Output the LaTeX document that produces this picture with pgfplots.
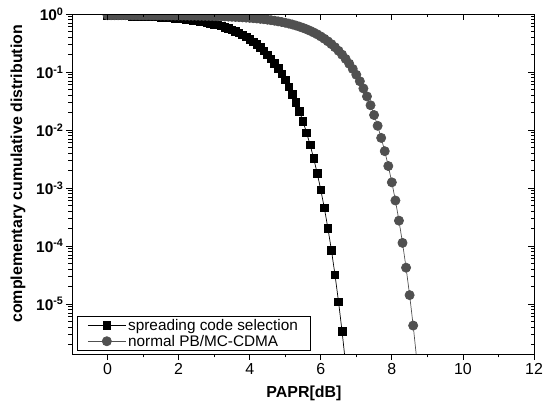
\documentclass[border=0pt]{standalone}
\usepackage{pgfplots}
\pgfplotsset{compat=1.18}
\usepackage{fontspec}
\setmainfont{Liberation Sans}
\definecolor{circgray}{RGB}{80,80,80}

\pgfplotsset{
  ccdfticks/.style={
    xtick={0,2,...,12}, minor x tick num=1,
    ytick={1e-5,1e-4,1e-3,1e-2,1e-1,1},
    minor ytick={2e-6,3e-6,4e-6,5e-6,6e-6,7e-6,8e-6,9e-6,
                 2e-5,3e-5,4e-5,5e-5,6e-5,7e-5,8e-5,9e-5,
                 2e-4,3e-4,4e-4,5e-4,6e-4,7e-4,8e-4,9e-4,
                 2e-3,3e-3,4e-3,5e-3,6e-3,7e-3,8e-3,9e-3,
                 2e-2,3e-2,4e-2,5e-2,6e-2,7e-2,8e-2,9e-2,
                 2e-1,3e-1,4e-1,5e-1,6e-1,7e-1,8e-1,9e-1},
    major tick length=6bp, minor tick length=3.5bp,
    tick style={black, line width=0.8bp},
    axis line style={line width=1bp},
  },
}

\begin{document}
\begin{tikzpicture}
\begin{axis}[
  scale only axis, width=462bp, height=340bp,
  xmin=-1, xmax=12,
  ymode=log, ymin=1.37e-6, ymax=1,
  ccdfticks,
  xtick pos=left, ytick pos=left,
  tick align=outside,
  clip marker paths=true,
  /pgf/number format/assume math mode=true,
  xticklabel style={font=\fontsize{16}{16}\selectfont},
  yticklabel style={font=\fontsize{15.5}{16}\selectfont\bfseries, xshift=1bp},
  yticklabels={10\textsuperscript{-5},10\textsuperscript{-4},10\textsuperscript{-3},
               10\textsuperscript{-2},10\textsuperscript{-1},10\textsuperscript{0}},
  xlabel={PAPR[dB]},
  ylabel={complementary cumulative distribution},
  label style={font=\fontsize{16}{16}\selectfont\bfseries},
  xlabel style={at={(axis description cs:0.502,-0.115)}, anchor=center},
  ylabel style={at={(axis description cs:-0.117,0.53)}, anchor=center},
  legend style={at={(0.011,0.009)}, anchor=south west, draw=black,
                line width=0.8bp, font=\fontsize{15.4}{15.4}\selectfont,
                inner xsep=10bp, inner ysep=1bp, row sep=-1bp,
                cells={anchor=west}},
  legend image code/.code={
    \draw[mark repeat=2,mark phase=2] plot coordinates {(0bp,0bp) (19bp,0bp) (38bp,0bp)};},
]
% spreading code selection
\addplot[black, line width=0.7bp, mark=square*, mark size=3.8bp,
         mark options={solid, fill=black}] table {
x    y
0.0  0.938
0.1  0.936
0.2  0.934
0.3  0.932
0.4  0.930
0.5  0.927
0.6  0.924
0.7  0.921
0.8  0.918
0.9  0.914
1.0  0.910
1.1  0.905
1.2  0.900
1.3  0.894
1.4  0.888
1.5  0.882
1.6  0.874
1.7  0.866
1.8  0.857
1.9  0.848
2.0  0.837
2.1  0.826
2.2  0.813
2.3  0.800
2.4  0.785
2.5  0.769
2.6  0.752
2.7  0.734
2.8  0.714
2.9  0.693
3.0  0.670
3.1  0.645
3.2  0.620
3.3  0.592
3.4  0.564
3.5  0.533
3.6  0.502
3.7  0.470
3.8  0.436
3.9  0.402
4.0  0.367
4.1  0.332
4.2  0.298
4.3  0.264
4.4  0.231
4.5  0.199
4.6  0.169
4.7  0.141
4.8  0.116
4.9  0.0928
5.0  0.0729
5.1  0.0557
5.2  0.0415
5.3  0.0299
5.4  0.0208
5.5  0.0140
5.6  0.00899
5.7  0.00553
5.8  0.00324
5.9  0.00179
6.0  9.31e-4
6.1  4.52e-4
6.2  2.03e-4
6.3  8.43e-5
6.4  3.18e-5
6.5  1.09e-5
6.6  3.33e-6
6.7  8.97e-7
};
\addlegendentry{spreading code selection}
% normal PB/MC-CDMA
\addplot[circgray, line width=0.7bp, mark=*, mark size=4.6bp,
         mark options={solid, fill=circgray}] table {
x    y
0.0  0.953
0.1  0.953
0.2  0.953
0.3  0.953
0.4  0.953
0.5  0.952
0.6  0.952
0.7  0.952
0.8  0.951
0.9  0.951
1.0  0.950
1.1  0.950
1.2  0.949
1.3  0.949
1.4  0.948
1.5  0.947
1.6  0.946
1.7  0.945
1.8  0.944
1.9  0.943
2.0  0.942
2.1  0.941
2.2  0.939
2.3  0.937
2.4  0.935
2.5  0.933
2.6  0.931
2.7  0.929
2.8  0.926
2.9  0.923
3.0  0.919
3.1  0.915
3.2  0.911
3.3  0.906
3.4  0.901
3.5  0.896
3.6  0.889
3.7  0.883
3.8  0.875
3.9  0.867
4.0  0.858
4.1  0.848
4.2  0.837
4.3  0.825
4.4  0.812
4.5  0.798
4.6  0.782
4.7  0.766
4.8  0.747
4.9  0.728
5.0  0.707
5.1  0.684
5.2  0.660
5.3  0.633
5.4  0.606
5.5  0.577
5.6  0.546
5.7  0.514
5.8  0.480
5.9  0.446
6.0  0.410
6.1  0.374
6.2  0.338
6.3  0.302
6.4  0.267
6.5  0.232
6.6  0.199
6.7  0.168
6.8  0.139
6.9  0.113
7.0  0.0895
7.1  0.0692
7.2  0.0520
7.3  0.0379
7.4  0.0267
7.5  0.0181
7.6  0.0118
7.7  0.00730
7.8  0.00431
7.9  0.00239
8.0  0.00125
8.1  6.08e-4
8.2  2.73e-4
8.3  1.13e-4
8.4  4.22e-5
8.5  1.42e-5
8.6  4.24e-6
8.7  1.11e-6
};
\addlegendentry{normal PB/MC-CDMA}
\end{axis}

% mirrored ticks on top and right, pointing inwards
\begin{axis}[
  scale only axis, width=462bp, height=340bp,
  xmin=-1, xmax=12,
  ymode=log, ymin=1.37e-6, ymax=1,
  ccdfticks,
  xtick pos=right, ytick pos=right,
  tick align=inside,
  xticklabels={}, yticklabels={},
]
\addplot[draw=none] coordinates {(0,0.5)};
\end{axis}

\path ([shift={(-72bp,-58bp)}]current axis.south west)
  rectangle ([shift={(16bp,14bp)}]current axis.north east);
\end{tikzpicture}
\end{document}
